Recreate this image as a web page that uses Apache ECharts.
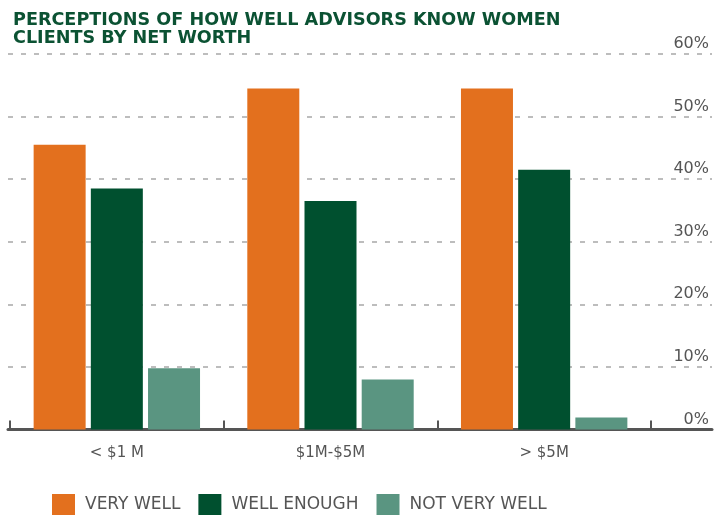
<!DOCTYPE html>
<html>
<head>
<meta charset="utf-8">
<script src="https://cdn.jsdelivr.net/npm/echarts@6/dist/echarts.min.js"></script>
<style>
  html, body { margin: 0; padding: 0; background: #fff; }
  #chart { width: 725px; height: 515px; }
</style>
</head>
<body>
<div id="chart"></div>
<script>
// data (percent)
const categories = ["< $1 M", "$1M-$5M", "> $5M"];
const seriesNames = ["VERY WELL", "WELL ENOUGH", "NOT VERY WELL"];
const veryWell = [45.5, 54.5, 54.5];
const wellEnough = [38.5, 36.5, 41.5];
const notVeryWell = [9.8, 8, 1.9];
const yTicks = [0, 10, 20, 30, 40, 50, 60];

const colors = ["#e3701e", "#00502f", "#5a9581"];
const font = "DejaVu Sans";
const gray = "#555";

const chart = echarts.init(document.getElementById("chart"));

const makeBar = (name, data, color) => ({
    name: name,
    type: "bar",
    xAxisIndex: 1,
    yAxisIndex: 1,
    data: data,
    barWidth: 52,
    barGap: "10%",
    itemStyle: { color: color },
    z: 3
});

const option = {
    animation: false,
    textStyle: { fontFamily: font },
    title: {
        text: "PERCEPTIONS OF HOW WELL ADVISORS KNOW WOMEN\nCLIENTS BY NET WORTH",
        left: 13,
        top: 11,
        padding: 0,
        textStyle: {
            fontFamily: font,
            fontSize: 17.6,
            fontWeight: "bold",
            color: "#0b5233",
            lineHeight: 18
        }
    },
    legend: {
        data: seriesNames,
        left: 52,
        top: 494,
        padding: 0,
        icon: "rect",
        itemWidth: 23,
        itemHeight: 21,
        itemGap: 18,
        textStyle: { fontFamily: font, fontSize: 17, color: gray, padding: [0, 0, 0, 5] }
    },
    grid: [
        // background grid: gridlines, right axis, long axis line
        { left: 8, right: 13, top: 54, bottom: 85.5 },
        // bars live in a narrower grid so the category bands match
        { left: 10, right: 74, top: 54, bottom: 85.5 }
    ],
    xAxis: [
        {
            gridIndex: 0,
            type: "value",
            min: 0,
            max: 1,
            axisLine: { show: true, lineStyle: { color: gray, width: 3 } },
            axisTick: { show: false },
            axisLabel: { show: false },
            splitLine: { show: false }
        },
        {
            gridIndex: 1,
            type: "category",
            data: categories,
            axisLine: { show: false },
            axisTick: { show: true, inside: true, length: 9, lineStyle: { color: gray, width: 2 } },
            axisLabel: { color: gray, fontSize: 15, fontFamily: font, margin: 16 }
        }
    ],
    yAxis: [
        {
            gridIndex: 0,
            type: "value",
            position: "right",
            min: yTicks[0],
            max: yTicks[yTicks.length - 1],
            interval: 10,
            axisLine: { show: false },
            axisTick: { show: false },
            axisLabel: {
                inside: true,
                align: "right",
                verticalAlign: "bottom",
                margin: 3,
                padding: [0, 0, 2, 0],
                color: gray,
                fontSize: 16,
                fontFamily: font,
                formatter: "{value}%"
            },
            splitLine: { show: true, lineStyle: { color: "#bdbdbd", width: 2, type: [5, 8] } }
        },
        {
            gridIndex: 1,
            type: "value",
            min: yTicks[0],
            max: yTicks[yTicks.length - 1],
            show: false
        }
    ],
    series: [
        makeBar(seriesNames[0], veryWell, colors[0]),
        makeBar(seriesNames[1], wellEnough, colors[1]),
        makeBar(seriesNames[2], notVeryWell, colors[2])
    ]
};

chart.setOption(option);
</script>
</body>
</html>
